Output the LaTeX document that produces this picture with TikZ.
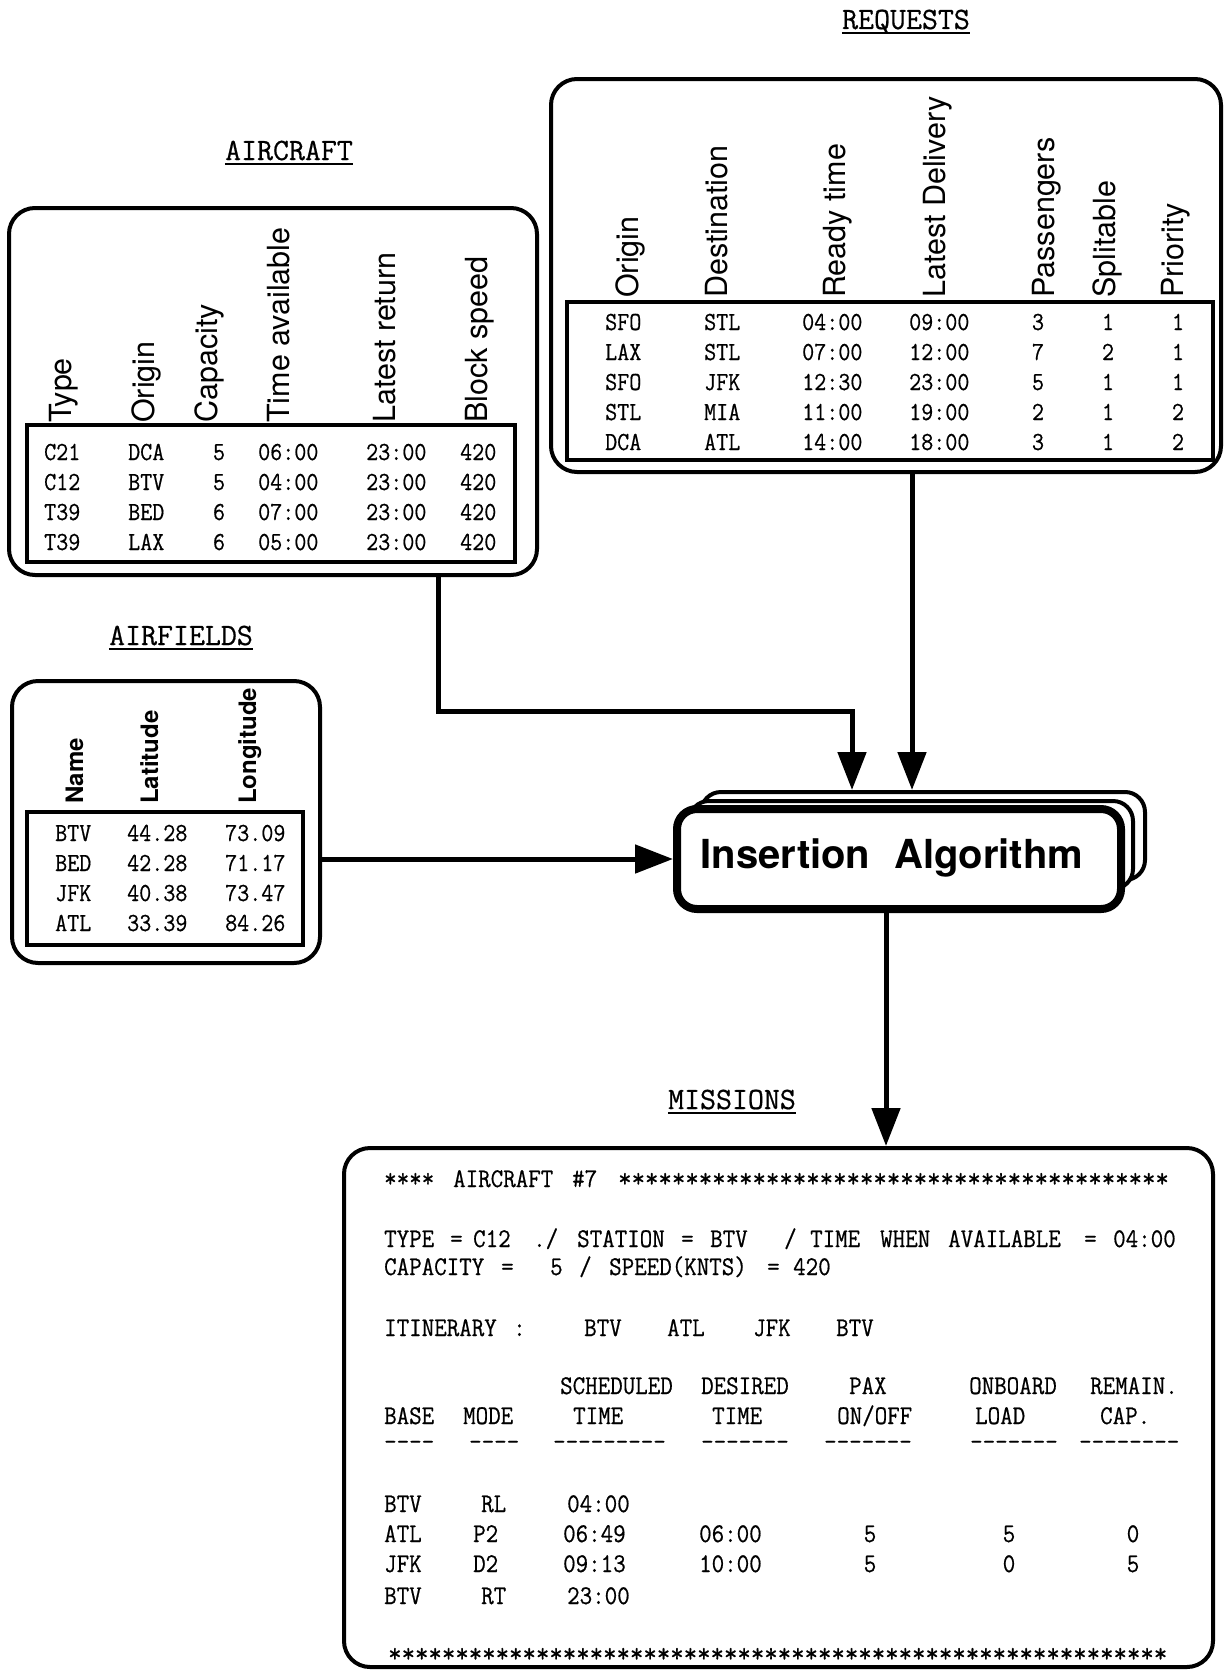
\documentclass[tikz,border=0pt]{standalone}
\usepackage{fontspec}
\setsansfont{TeX Gyre Heros}
\setmonofont{Latin Modern Mono}[FakeBold=0.6]
\usetikzlibrary{arrows.meta}
\begin{document}
\begin{tikzpicture}[x=1pt,y=-1pt,
  outerbox/.style={draw, line width=4pt, rounded corners=26pt, inner sep=0pt, fill=white},
  tablebox/.style={draw, line width=4pt, inner sep=0pt},
  hdr/.style={font=\sffamily\fontsize{30.5}{30.5}\selectfont, rotate=90, anchor=base west, inner sep=0pt},
  afhdr/.style={font=\sffamily\bfseries\fontsize{24}{24}\selectfont, rotate=90, anchor=base west, inner sep=0pt},
  cellbase/.style={font=\ttfamily\fontsize{26}{26}\selectfont, inner sep=0pt, transform shape},
  cell/.style={cellbase, xscale=0.9, anchor=base west},
  ccell/.style={cellbase, xscale=0.9, anchor=base},
  mbase/.style={font=\ttfamily\fontsize{27}{27}\selectfont, inner sep=0pt, transform shape},
  mtxt/.style={mbase, xscale=0.9, anchor=base west},
  cmtxt/.style={mbase, xscale=0.9, anchor=base},
  startxt/.style={mbase, xscale=0.966, anchor=base west},
  ttl/.style={font=\ttfamily\fontsize{31}{31}\selectfont, anchor=base, inner sep=0pt},
  uline/.style={line width=2pt},
  algbox/.style={draw, fill=white, rounded corners=20pt, inner sep=0pt, minimum width=444pt},
  conn/.style={line width=5pt, -{Triangle[length=38pt,width=28pt]}},
]
\useasboundingbox (0,0) rectangle (1225,1670);
\fill[white] (0,0) rectangle (1225,1670);

% titles
\node[ttl] (tReq) at (906,29) {REQUESTS};
\node[ttl] (tAc) at (289,160) {AIRCRAFT};
\node[ttl] (tAf) at (181,645) {AIRFIELDS};
\node[ttl] (tMi) at (732,1109) {MISSIONS};
\foreach \n in {tReq,tAc,tAf,tMi}
  \draw[uline] ([yshift=-4pt]\n.base west) -- ([yshift=-4pt]\n.base east);

% outer boxes
\node[outerbox, minimum width=528pt, minimum height=367pt] (acbox) at (273,391.5) {};
\node[outerbox, minimum width=670pt, minimum height=393pt] (rqbox) at (886,275.5) {};
\node[outerbox, minimum width=308pt, minimum height=282pt] (afbox) at (166,822) {};
\node[outerbox, minimum width=869pt, minimum height=519pt] (mibox) at (778.5,1407.5) {};

% inner tables
\node[tablebox, minimum width=488pt, minimum height=137pt] (acTab) at (271,493.5) {};
\node[tablebox, minimum width=646pt, minimum height=158pt] (rqTab) at (890,381) {};
\node[tablebox, minimum width=276pt, minimum height=133pt] (afTab) at (165,878.5) {};

% aircraft headers
\foreach \x/\t [count=\i] in {71/Type,154/Origin,217/Capacity,289/Time available,395/Latest return,487/Block speed}
  \node[hdr] (ach\i) at (\x,423) {\t};
% requests headers
\foreach \x/\t [count=\i] in {638/Origin,727/Destination,845/Ready time,945/Latest Delivery,1054/Passengers,1115/Splitable,1183/Priority}
  \node[hdr] (rqh\i) at (\x,298) {\t};
% airfields headers
\foreach \x/\t [count=\i] in {83/Name,158/Latitude,256/Longitude}
  \node[afhdr] (afh\i) at (\x,804) {\t};

% aircraft cells
\foreach \x/\y/\t [count=\i] in {
  44/460/C21,128/460/DCA,258/460/06:00,366/460/23:00,460/460/420,
  44/490/C12,128/490/BTV,258/490/04:00,366/490/23:00,460/490/420,
  44/520/T39,128/520/BED,258/520/07:00,366/520/23:00,460/520/420,
  44/550/T39,128/550/LAX,258/550/05:00,366/550/23:00,460/550/420}
  \node[cell] (ac\i) at (\x,\y) {\t};
\foreach \y/\t [count=\i] in {460/5,490/5,520/6,550/6}
  \node[ccell] (acc\i) at (219,\y) {\t};

% requests cells
\foreach \x/\y/\t [count=\i] in {
  605/330/SFO,704/330/STL,802/330/04:00,909/330/09:00,
  605/360/LAX,704/360/STL,802/360/07:00,909/360/12:00,
  605/390/SFO,704/390/JFK,802/390/12:30,909/390/23:00,
  605/420/STL,704/420/MIA,802/420/11:00,909/420/19:00,
  605/450/DCA,704/450/ATL,802/450/14:00,909/450/18:00}
  \node[cell] (rq\i) at (\x,\y) {\t};
\foreach \x/\y/\t [count=\i] in {
  1038/330/3,1108/330/1,1178/330/1,
  1038/360/7,1108/360/2,1178/360/1,
  1038/390/5,1108/390/1,1178/390/1,
  1038/420/2,1108/420/1,1178/420/2,
  1038/450/3,1108/450/1,1178/450/2}
  \node[ccell] (rqc\i) at (\x,\y) {\t};

% airfields cells
\foreach \x/\y/\t [count=\i] in {
  55/841/BTV,127/841/44.28,225/841/73.09,
  55/871/BED,127/871/42.28,225/871/71.17,
  55/901/JFK,127/901/40.38,225/901/73.47,
  55/931/ATL,127/931/33.39,225/931/84.26}
  \node[cell] (af\i) at (\x,\y) {\t};

% missions text
\foreach \x/\y/\t [count=\i] in {
  384/1187/****,453/1187/AIRCRAFT,572/1187/{\#7},
  384/1247/TYPE,450/1247/=,473/1247/C12,533/1247/{./},577/1247/STATION,681/1247/=,710/1247/BTV,
  784/1247/{/},810/1247/TIME,880/1247/WHEN,948/1247/AVAILABLE,1084/1247/=,1113/1247/04:00,
  384/1275/CAPACITY,501/1275/=,550/1275/5,579/1275/{/},609/1275/SPEED(KNTS),767/1275/=,793/1275/420,
  384/1336/ITINERARY,513/1336/:,584/1336/BTV,667/1336/ATL,753/1336/JFK,836/1336/BTV,
  560/1394/SCHEDULED,701/1394/DESIRED,849/1394/PAX,969/1394/ONBOARD,1090/1394/REMAIN.,
  384/1424/BASE,463/1424/MODE,573/1424/TIME,712/1424/TIME,837/1424/{ON/OFF},975/1424/LOAD,1100/1424/CAP.,
  384/1450/----,469/1450/----,553/1450/---------,701/1450/-------,824/1450/-------,970/1450/-------,1079/1450/--------,
  384/1512/BTV,481/1512/RL,567/1512/04:00,
  384/1542/ATL,473/1542/P2,563/1542/06:49,699/1542/06:00,
  384/1572/JFK,473/1572/D2,563/1572/09:13,699/1572/10:00,
  384/1604/BTV,481/1604/RT,567/1604/23:00}
  \node[mtxt] (m\i) at (\x,\y) {\t};
\foreach \x/\y/\t [count=\i] in {870/1542/5,1009/1542/5,1133/1542/0,870/1572/5,1009/1572/0,1133/1572/5}
  \node[cmtxt] (mc\i) at (\x,\y) {\t};
\node[startxt] (starsTop) at (618,1187) {*****************************************};
\node[startxt] (starsBot) at (388,1662) {**********************************************************};

% insertion algorithm (stacked)
\node[algbox, line width=4pt, minimum height=88pt] (ins3) at (923,836) {};
\node[algbox, line width=4pt, minimum height=88pt] (ins2) at (911,845) {};
\node[algbox, line width=8pt, minimum height=100pt] (ins) at (899,859) {};
\node[font=\sffamily\bfseries\fontsize{40}{40}\selectfont, anchor=base, inner sep=0pt] (insTxt) at (892,868) {Insertion\hspace{24pt}Algorithm};

% connectors
\coordinate (acout) at (438,577);
\coordinate (acin) at (852,790);
\coordinate (rqout) at (912,474);
\coordinate (insout) at (886,913);
\draw[conn] (acout) -- ++(0,134) -| (acin);
\draw[conn] (rqout) -- (rqout |- ins3.north);
\draw[conn] (afbox.east |- ins.west) -- (ins.west);
\draw[conn] (insout) -- (insout |- mibox.north);
\end{tikzpicture}
\end{document}
